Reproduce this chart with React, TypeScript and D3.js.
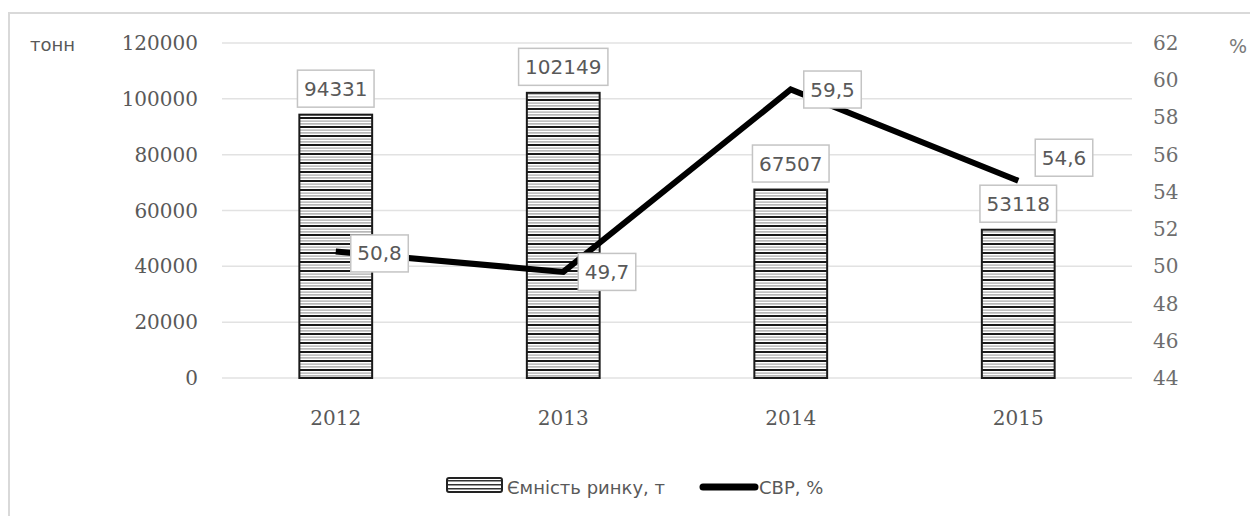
import * as d3 from "d3";

const years = ["2012", "2013", "2014", "2015"];
const capacity = [94331, 102149, 67507, 53118];
const cvr = [50.8, 49.7, 59.5, 54.6];
const leftTicks = [0, 20000, 40000, 60000, 80000, 100000, 120000];
const rightTicks = [44, 46, 48, 50, 52, 54, 56, 58, 60, 62];
const barName = "Ємність ринку, т";
const lineName = "СВР, %";

const W = 1250;
const H = 516;
const PLOT = { left: 222, right: 1132, top: 43, bottom: 378 };
// label offsets for the line labels (dx from point to box left, dy to box centre)
const lineLabelNudge = [
  [15, 2],
  [15, 0],
  [13, 0],
  [17, -23],
];

const SERIF = "'DejaVu Serif', serif";
const SANS = "'DejaVu Sans', sans-serif";
const GREY_TXT = "#595959";

const textW = (s: string, size: number) => {
  let w = 0;
  for (const c of s) w += c === "," || c === "." ? 0.318 : 0.636;
  return w * size;
};

export default function App() {
  const x = d3
    .scaleBand()
    .domain(years)
    .range([PLOT.left, PLOT.right])
    .paddingInner(0.68)
    .paddingOuter(0.34);
  const yL = d3.scaleLinear().domain([0, 120000]).range([PLOT.bottom, PLOT.top]);
  const yR = d3.scaleLinear().domain([44, 62]).range([PLOT.bottom, PLOT.top]);
  const cx = (i: number) => (x(years[i]) || 0) + x.bandwidth() / 2;

  const line = d3
    .line<number>()
    .x((_, i) => cx(i))
    .y((d) => yR(d));

  const labelBox = (txt: string, bx: number, by: number, key: string, center = true) => {
    const tw = textW(txt, 20);
    const bw = tw + 13;
    const bh = 37;
    const left = center ? bx - bw / 2 : bx;
    return (
      <g key={key}>
        <rect x={left} y={by - bh / 2} width={bw} height={bh} fill="#fff" stroke="#c4c4c4" strokeWidth={1.5} />
        <text x={left + bw / 2} y={by + 7} textAnchor="middle" fontFamily={SANS} fontSize={20} fill={GREY_TXT}>
          {txt}
        </text>
      </g>
    );
  };

  return (
    <svg width={W} height={H} style={{ position: "absolute", left: 0, top: 0, background: "#fff" }}>
      <defs>
        <pattern id="stripes" patternUnits="userSpaceOnUse" width={8} height={9}>
          <rect width={8} height={9} fill="#fff" />
          <rect y={0} width={8} height={2} fill="#1a1a1a" />
          <rect y={3.5} width={8} height={1.2} fill="#a8a8a8" />
          <rect y={6.3} width={8} height={1.2} fill="#9a9a9a" />
        </pattern>
        <pattern id="legStripes" patternUnits="userSpaceOnUse" width={8} height={4}>
          <rect width={8} height={4} fill="#fff" />
          <rect y={0} width={8} height={1.5} fill="#333" />
        </pattern>
      </defs>

      {/* frame */}
      <rect x={9} y={13} width={W} height={H} fill="none" stroke="#d9d9d9" strokeWidth={2} />

      {/* grid */}
      {leftTicks.map((t) => (
        <line key={t} x1={PLOT.left} x2={PLOT.right} y1={yL(t)} y2={yL(t)} stroke="#e2e2e2" strokeWidth={1.5} />
      ))}

      {/* left axis */}
      {leftTicks.map((t) => (
        <text key={t} x={198} y={yL(t) + 7} textAnchor="end" fontFamily={SERIF} fontSize={20} fill={GREY_TXT}>
          {t}
        </text>
      ))}
      <text x={30} y={51} fontFamily={SANS} fontSize={18} fill={GREY_TXT}>
        тонн
      </text>

      {/* right axis */}
      {rightTicks.map((t) => (
        <text key={t} x={1153} y={yR(t) + 7} fontFamily={SERIF} fontSize={20} fill="#6e6e6e">
          {t}
        </text>
      ))}
      <text x={1229} y={53} fontFamily={SANS} fontSize={19} fill="#7a7a7a">
        %
      </text>

      {/* x axis labels */}
      {years.map((yr, i) => (
        <text key={yr} x={cx(i)} y={425} textAnchor="middle" fontFamily={SERIF} fontSize={20} fill={GREY_TXT}>
          {yr}
        </text>
      ))}

      {/* bars */}
      {capacity.map((v, i) => (
        <rect
          key={i}
          x={x(years[i])}
          y={yL(v)}
          width={x.bandwidth()}
          height={yL(0) - yL(v)}
          fill="url(#stripes)"
          stroke="#1a1a1a"
          strokeWidth={2}
        />
      ))}

      {/* line */}
      <path d={line(cvr) || ""} fill="none" stroke="#000" strokeWidth={6} strokeLinejoin="miter" />

      {/* bar labels */}
      {capacity.map((v, i) => labelBox(String(v), cx(i), yL(v) - 26, "b" + i))}

      {/* line labels */}
      {cvr.map((v, i) =>
        labelBox(
          String(v).replace(".", ","),
          cx(i) + lineLabelNudge[i][0],
          yR(v) + lineLabelNudge[i][1],
          "l" + i,
          false
        )
      )}

      {/* legend */}
      <rect x={447} y={478} width={55} height={14} rx={2} fill="url(#legStripes)" stroke="#222" strokeWidth={2} />
      <text x={507} y={494} fontFamily={SANS} fontSize={18} fill={GREY_TXT}>
        {barName}
      </text>
      <line x1={703} x2={755} y1={487} y2={487} stroke="#000" strokeWidth={7} strokeLinecap="round" />
      <text x={759} y={494} fontFamily={SANS} fontSize={18} fill={GREY_TXT}>
        {lineName}
      </text>
    </svg>
  );
}
